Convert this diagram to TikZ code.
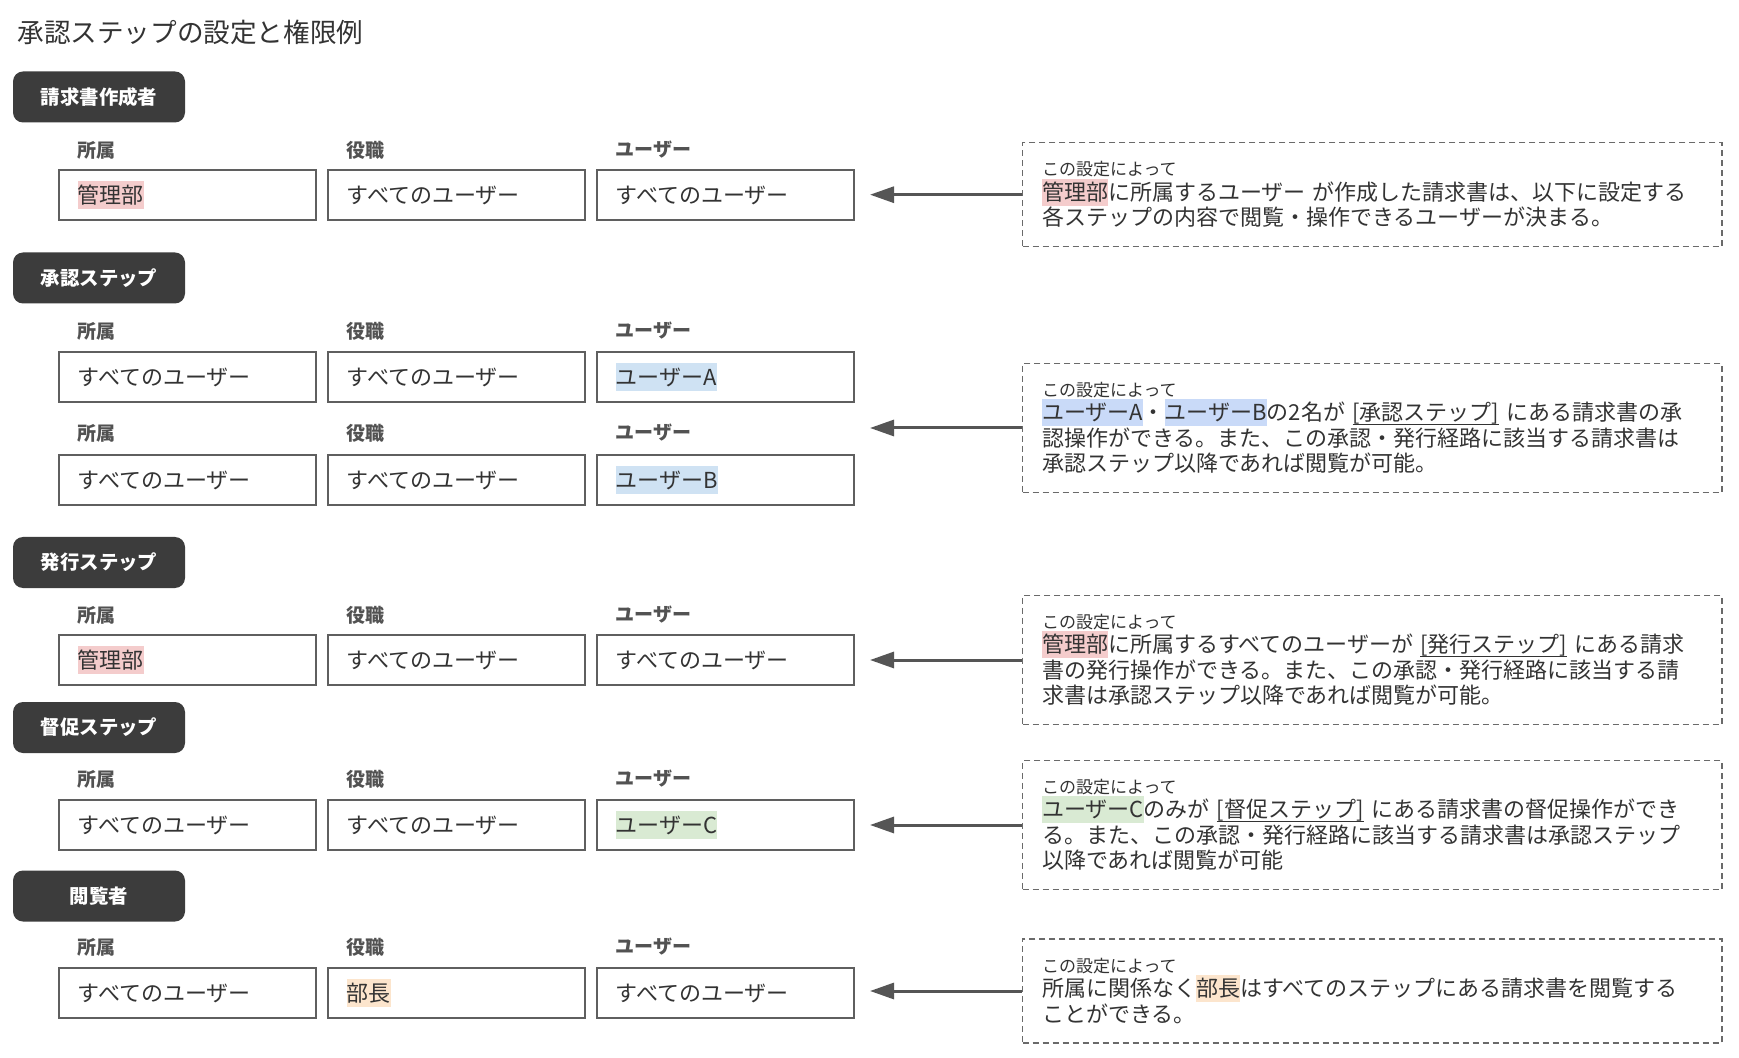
\documentclass[tikz,border=0pt]{standalone}
\usepackage{fontspec}
\setmainfont{Noto Sans CJK JP}
\usetikzlibrary{arrows.meta, positioning, calc}

\definecolor{inkgray}{HTML}{333333}
\definecolor{hdrgray}{HTML}{3C3C3C}
\definecolor{framegray}{HTML}{5F5F5F}
\definecolor{dashgray}{HTML}{6A6A6A}
\definecolor{arrowgray}{HTML}{555555}
\definecolor{hlpink}{HTML}{F4CCCC}
\definecolor{hlblue}{HTML}{C9DAF8}
\definecolor{hlsky}{HTML}{CFE2F3}
\definecolor{hlgreen}{HTML}{D9EAD3}
\definecolor{hlorange}{HTML}{FCE5CD}

\newcommand{\hlmark}[2]{{\setlength{\fboxsep}{0pt}\colorbox{#1}{\rule[-0.24em]{0pt}{1.23em}#2}}}
\newcommand{\steplink}[1]{\setbox0\hbox{#1}\rlap{\rule[-2.2pt]{\wd0}{0.6pt}}\box0}
\newcommand{\notehead}{{\fontsize{8.5}{10}\selectfont この設定によって}\\[-0.5pt]}

\tikzset{
  header/.style={fill=hdrgray, rounded corners=5pt, minimum width=86pt, minimum height=25.5pt,
    inner sep=0pt, text=white, font=\fontsize{9.7}{11}\selectfont\bfseries},
  field/.style={anchor=west, inner sep=0pt, text=inkgray!85, font=\fontsize{9.5}{11}\selectfont\bfseries},
  valbox/.style={draw=framegray, line width=1pt, minimum width=128.5pt, minimum height=25pt,
    inner xsep=9.3pt, inner ysep=0pt, text width=109.9pt, align=left, text=inkgray,
    font=\fontsize{11}{13}\selectfont},
  notebox/.style={draw=dashgray, line width=0.75pt, dash pattern=on 3pt off 2pt, minimum height=#1,
    inner xsep=9.65pt, text width=330.35pt, align=left, text=inkgray,
    font=\fontsize{11}{12.75}\selectfont},
  pointer/.style={draw=arrowgray, line width=1.5pt, -{Triangle[length=12pt,width=8pt]}, shorten >=7.5pt},
}

\begin{document}
\begin{tikzpicture}[x=0.5pt, y=-0.5pt]
    \path[fill=white, use as bounding box] (0,0) rectangle (1739,1058);
    \node[anchor=west, inner sep=0pt, text=inkgray, font=\fontsize{13.3}{16}\selectfont] (title) at (17,32) {承認ステップの設定と権限例};

    % 請求書作成者
    \node[header] (h1) at (99,97) {請求書作成者};
    \node[valbox] (r1a) at (187.5,195) {\hlmark{hlpink}{管理部}};
    \node[valbox] (r1b) at (456.5,195) {すべてのユーザー};
    \node[valbox] (r1c) at (725.5,195) {すべてのユーザー};

    % 承認ステップ
    \node[header] (h2) at (99,278) {承認ステップ};
    \node[valbox] (r2a) at (187.5,377) {すべてのユーザー};
    \node[valbox] (r2b) at (456.5,377) {すべてのユーザー};
    \node[valbox] (r2c) at (725.5,377) {\hlmark{hlsky}{ユーザーA}};
    \node[valbox] (r3a) at (187.5,480) {すべてのユーザー};
    \node[valbox] (r3b) at (456.5,480) {すべてのユーザー};
    \node[valbox] (r3c) at (725.5,480) {\hlmark{hlsky}{ユーザーB}};

    % 発行ステップ
    \node[header] (h3) at (99,562.5) {発行ステップ};
    \node[valbox] (r4a) at (187.5,660) {\hlmark{hlpink}{管理部}};
    \node[valbox] (r4b) at (456.5,660) {すべてのユーザー};
    \node[valbox] (r4c) at (725.5,660) {すべてのユーザー};

    % 督促ステップ
    \node[header] (h4) at (99,727.5) {督促ステップ};
    \node[valbox] (r5a) at (187.5,825) {すべてのユーザー};
    \node[valbox] (r5b) at (456.5,825) {すべてのユーザー};
    \node[valbox] (r5c) at (725.5,825) {\hlmark{hlgreen}{ユーザーC}};

    % 閲覧者
    \node[header] (h5) at (99,896) {閲覧者};
    \node[valbox] (r6a) at (187.5,993) {すべてのユーザー};
    \node[valbox] (r6b) at (456.5,993) {\hlmark{hlorange}{部長}};
    \node[valbox] (r6c) at (725.5,993) {すべてのユーザー};

    % column labels
    \foreach \k/\y in {1/150, 2/331, 3/433, 4/615, 5/779, 6/947} {
        \node[field] (fa\k) at (77.3,\y) {所属};
        \node[field] (fb\k) at (346.3,\y) {役職};
        \node[field] (fc\k) at (615.3,\y) {ユーザー};
    }

    % notes
    \node[notebox=52pt] (n1) at (1372.35,194.7) {\notehead
        \hlmark{hlpink}{管理部}に所属するユーザー~が作成した請求書は、以下に設定する\\
        各ステップの内容で閲覧・操作できるユーザーが決まる。};
    \node[notebox=64.5pt] (n2) at (1372.35,428) {\notehead
        \hlmark{hlblue}{ユーザーA}・\hlmark{hlblue}{ユーザーB}の2名が~\steplink{[承認ステップ]}~にある請求書の承\\
        認操作ができる。また、この承認・発行経路に該当する請求書は\\
        承認ステップ以降であれば閲覧が可能。};
    \node[notebox=64.5pt] (n3) at (1372.35,660) {\notehead
        \hlmark{hlpink}{管理部}に所属するすべてのユーザーが~\steplink{[発行ステップ]}~にある請求\\
        書の発行操作ができる。また、この承認・発行経路に該当する請\\
        求書は承認ステップ以降であれば閲覧が可能。};
    \node[notebox=64.5pt] (n4) at (1372.35,825) {\notehead
        \hlmark{hlgreen}{ユーザーC}のみが~\steplink{[督促ステップ]}~にある請求書の督促操作ができ\\
        る。また、この承認・発行経路に該当する請求書は承認ステップ\\
        以降であれば閲覧が可能};
    \node[notebox=52pt] (n5) at (1372.35,991) {\notehead
        所属に関係なく\hlmark{hlorange}{部長}はすべてのステップにある請求書を閲覧する\\
        ことができる。};

    \draw[pointer] (n1.west) -- (n1.west -| r1c.east);
    \draw[pointer] (n2.west) -- (n2.west -| r2c.east);
    \draw[pointer] (n3.west) -- (n3.west -| r4c.east);
    \draw[pointer] (n4.west) -- (n4.west -| r5c.east);
    \draw[pointer] (n5.west) -- (n5.west -| r6c.east);
\end{tikzpicture}
\end{document}
